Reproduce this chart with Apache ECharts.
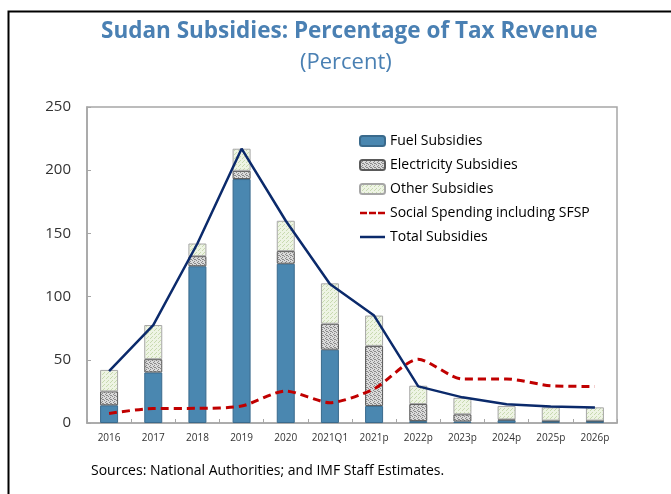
<!DOCTYPE html>
<html>
<head>
<meta charset="utf-8">
<script src="https://cdn.jsdelivr.net/npm/echarts@6/dist/echarts.min.js"></script>
<style>
html,body{margin:0;padding:0;background:#fff;}
#chart{width:671px;height:494px;}
</style>
</head>
<body>
<div id="chart"></div>
<script>
var categories = ['2016','2017','2018','2019','2020','2021Q1','2021p','2022p','2023p','2024p','2025p','2026p'];
var fuelSubsidies = [14, 40, 124, 193, 126, 58, 13.5, 1.5, 1.2, 2.2, 1.6, 1.6];
var electricitySubsidies = [11, 10.5, 8, 6.5, 10, 20.5, 47.5, 13.5, 5.7, 0.6, 0.3, 0.3];
var otherSubsidies = [17, 27, 10, 17.5, 24, 32, 24, 14.5, 13, 10.6, 10.5, 10.5];
var socialSpending = [7.6, 11.5, 11.6, 13.4, 25.3, 16.1, 27, 50.4, 34.8, 34.8, 29.5, 28.9];
var totalSubsidies = [41, 77.5, 142, 217, 160, 110, 85, 29, 20.3, 14.8, 13, 12.2];
var yTicks = {min: 0, max: 250, interval: 50};

function makePattern(bg, fg, size, dots) {
  var c = document.createElement('canvas');
  c.width = size; c.height = size;
  var ctx = c.getContext('2d');
  ctx.fillStyle = bg; ctx.fillRect(0, 0, size, size);
  ctx.fillStyle = fg;
  dots.forEach(function (d) { ctx.fillRect(d[0], d[1], 1, 1); });
  return {image: c, repeat: 'repeat'};
}
var elecPattern = makePattern('#dadada', '#8a8a8a', 4, [[0,0],[2,1],[1,2],[3,3],[2,3]]);
var otherPattern = makePattern('#eef4e4', '#c8dab0', 4, [[0,0],[2,2],[3,1]]);

var solidLineIcon = 'path://M0,0h25v2.5h-25z';
var dashedLineIcon = 'path://M0,0h7v2.5h-7z M9,0h7v2.5h-7z M18,0h7v2.5h-7z';

var chart = echarts.init(document.getElementById('chart'));
var option = {
  backgroundColor: '#fff',
  animation: false,
  title: [{
    text: 'Sudan Subsidies: Percentage of Tax Revenue',
    left: 96, top: 15,
    textStyle: {fontFamily: 'Open Sans', fontWeight: 'bold', fontSize: 22.5, color: '#4a80b3'}
  }, {
    text: '(Percent)',
    left: 295, top: 47,
    textStyle: {fontFamily: 'Open Sans', fontWeight: 'normal', fontSize: 22, color: '#4a80b3'}
  }, {
    text: 'Sources: National Authorities; and IMF Staff Estimates.',
    left: 86, top: 459,
    textStyle: {fontFamily: 'Open Sans', fontWeight: 'normal', fontSize: 14, color: '#000'}
  }],
  graphic: [{
    type: 'polyline',
    shape: {points: [[8.5, 494], [8.5, 11.5], [671, 11.5]]},
    style: {stroke: '#000', lineWidth: 2, fill: null},
    silent: true
  }],
  legend: {
    orient: 'vertical',
    left: 354, top: 129,
    itemWidth: 25, itemHeight: 10, itemGap: 10,
    textStyle: {fontFamily: 'Open Sans', fontSize: 14, color: '#000'},
    data: [
      {name: 'Fuel Subsidies'},
      {name: 'Electricity Subsidies'},
      {name: 'Other Subsidies'},
      {name: 'Social Spending including SFSP', icon: dashedLineIcon},
      {name: 'Total Subsidies', icon: solidLineIcon}
    ]
  },
  grid: {
    left: 87, top: 107, right: 54, bottom: 71,
    show: true, borderColor: '#a6a6a6', borderWidth: 1.5, backgroundColor: 'transparent'
  },
  xAxis: {
    type: 'category',
    data: categories,
    axisLine: {lineStyle: {color: '#a6a6a6', width: 1.5}},
    axisTick: {show: true, inside: true, length: 4, lineStyle: {color: '#a6a6a6'}},
    axisLabel: {interval: 0, fontFamily: 'Open Sans', fontSize: 10, color: '#333', margin: 10}
  },
  yAxis: {
    type: 'value',
    min: yTicks.min, max: yTicks.max, interval: yTicks.interval,
    splitLine: {show: false},
    axisLine: {show: true, lineStyle: {color: '#a6a6a6', width: 1.5}},
    axisTick: {show: true, inside: true, length: 4, lineStyle: {color: '#a6a6a6'}},
    axisLabel: {fontFamily: 'Open Sans', fontSize: 15, color: '#333', margin: 16}
  },
  series: [{
    name: 'Fuel Subsidies', type: 'bar', stack: 'sub', barWidth: 18,
    itemStyle: {color: '#4a87b0', borderColor: '#3a6a8c', borderWidth: 1},
    data: fuelSubsidies
  }, {
    name: 'Electricity Subsidies', type: 'bar', stack: 'sub',
    itemStyle: {color: elecPattern, borderColor: '#5a5a5a', borderWidth: 1},
    data: electricitySubsidies
  }, {
    name: 'Other Subsidies', type: 'bar', stack: 'sub',
    itemStyle: {color: otherPattern, borderColor: '#a6a6a6', borderWidth: 1},
    data: otherSubsidies
  }, {
    name: 'Social Spending including SFSP', type: 'line', symbol: 'none', smooth: 0.25,
    lineStyle: {color: '#c00000', width: 3, type: [8, 5]},
    itemStyle: {color: '#c00000'},
    data: socialSpending, z: 5
  }, {
    name: 'Total Subsidies', type: 'line', symbol: 'none',
    lineStyle: {color: '#0b2a6b', width: 2.5},
    itemStyle: {color: '#0b2a6b'},
    data: totalSubsidies, z: 6
  }]
};
chart.setOption(option);
</script>
</body>
</html>
